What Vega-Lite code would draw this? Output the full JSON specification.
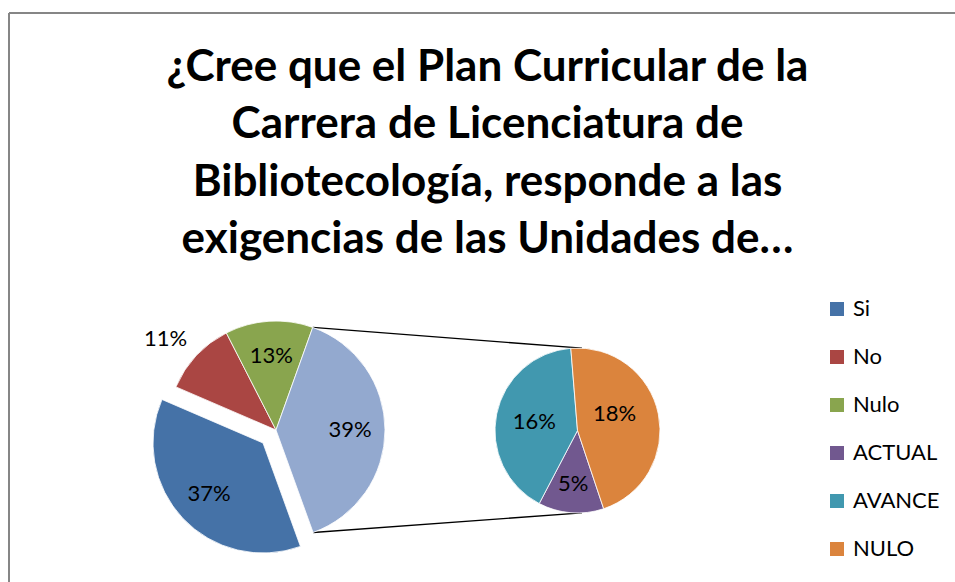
{
  "$schema": "https://vega.github.io/schema/vega-lite/v6.json",
  "width": 946,
  "height": 569,
  "autosize": {"type": "none"},
  "padding": {"left": 9, "top": 13, "right": 0, "bottom": 0},
  "background": "white",
  "config": {"view": {"stroke": null}},
  "title": {
    "text": ["¿Cree que el Plan Curricular de la", "Carrera de Licenciatura de", "Bibliotecología, responde a las", "exigencias de las Unidades de…"],
    "font": "Lato",
    "fontSize": 44,
    "fontWeight": "bold",
    "lineHeight": 57.5,
    "color": "#000000",
    "anchor": "middle",
    "frame": "group",
    "baseline": "top",
    "offset": -250,
    "dx": 5.5
  },
  "datasets": {
    "principal": [
      {"categoria": "Si", "valor": 0.37},
      {"categoria": "No", "valor": 0.11},
      {"categoria": "Nulo", "valor": 0.13},
      {"categoria": "Otro", "valor": 0.39}
    ],
    "detalle": [
      {"categoria": "ACTUAL", "valor": 0.05},
      {"categoria": "AVANCE", "valor": 0.16},
      {"categoria": "NULO", "valor": 0.18}
    ],
    "vacio": [{}]
  },
  "resolve": {"scale": {"theta": "independent"}},
  "layer": [
    {
      "data": {"name": "vacio"},
      "mark": {"type": "rule", "color": "#868686", "strokeWidth": 2},
      "encoding": {
        "x": {"datum": 0, "type": "quantitative", "scale": {"domain": [0, 946], "nice": false, "zero": false}, "axis": null}
      }
    },
    {
      "data": {"name": "vacio"},
      "mark": {"type": "rule", "color": "#868686", "strokeWidth": 2},
      "encoding": {
        "y": {"datum": 0, "type": "quantitative", "scale": {"domain": [0, 569], "nice": false, "zero": false, "reverse": true}, "axis": null}
      }
    },
    {
      "data": {"name": "vacio"},
      "mark": {"type": "rule", "color": "#000000", "strokeWidth": 1.3},
      "encoding": {
        "x": {"datum": 303.7, "type": "quantitative", "scale": {"domain": [0, 946], "nice": false, "zero": false}, "axis": null},
        "y": {"datum": 314.4, "type": "quantitative", "scale": {"domain": [0, 569], "nice": false, "zero": false, "reverse": true}, "axis": null},
        "x2": {"datum": 573},
        "y2": {"datum": 335.2}
      }
    },
    {
      "data": {"name": "vacio"},
      "mark": {"type": "rule", "color": "#000000", "strokeWidth": 1.3},
      "encoding": {
        "x": {"datum": 304.2, "type": "quantitative", "scale": {"domain": [0, 946], "nice": false, "zero": false}, "axis": null},
        "y": {"datum": 519.5, "type": "quantitative", "scale": {"domain": [0, 569], "nice": false, "zero": false, "reverse": true}, "axis": null},
        "x2": {"datum": 573},
        "y2": {"datum": 499.8}
      }
    },
    {
      "data": {"name": "principal"},
      "transform": [
        {"stack": "valor", "groupby": [], "as": ["v0", "v1"]},
        {"filter": "datum.categoria != 'Si'"}
      ],
      "mark": {"type": "arc", "radius": 109, "stroke": "#ffffff", "strokeWidth": 0.8},
      "encoding": {
        "x": {"datum": 267, "type": "quantitative", "scale": {"domain": [0, 946], "nice": false, "zero": false}, "axis": null},
        "y": {"datum": 417, "type": "quantitative", "scale": {"domain": [0, 569], "nice": false, "zero": false, "reverse": true}, "axis": null},
        "theta": {"field": "v0", "type": "quantitative", "scale": {"domain": [0, 1], "range": [2.7943, 9.0775]}},
        "theta2": {"field": "v1"},
        "color": {
          "field": "categoria",
          "type": "nominal",
          "scale": {
            "domain": ["Si", "No", "Nulo", "ACTUAL", "AVANCE", "NULO", "Otro"],
            "range": ["#4572A7", "#AA4643", "#89A54E", "#71588F", "#4198AF", "#DB843D", "#93A9CF"]
          },
          "legend": {
            "values": ["Si", "No", "Nulo", "ACTUAL", "AVANCE", "NULO"],
            "title": null,
            "orient": "none",
            "legendX": 817,
            "legendY": 285,
            "padding": 0,
            "symbolType": "square",
            "symbolSize": 196,
            "symbolStrokeWidth": 0,
            "labelFont": "Lato",
            "labelFontSize": 22,
            "labelColor": "#000000",
            "labelOffset": 5,
            "rowPadding": 26
          }
        }
      }
    },
    {
      "data": {"name": "principal"},
      "transform": [
        {"stack": "valor", "groupby": [], "as": ["v0", "v1"]},
        {"filter": "datum.categoria == 'Si'"}
      ],
      "mark": {"type": "arc", "radius": 110, "stroke": "#ffffff", "strokeWidth": 0.8, "xOffset": -13, "yOffset": 13},
      "encoding": {
        "x": {"datum": 267, "type": "quantitative", "scale": {"domain": [0, 946], "nice": false, "zero": false}, "axis": null},
        "y": {"datum": 417, "type": "quantitative", "scale": {"domain": [0, 569], "nice": false, "zero": false, "reverse": true}, "axis": null},
        "theta": {"field": "v0", "type": "quantitative", "scale": {"domain": [0, 1], "range": [2.7943, 9.0775]}},
        "theta2": {"field": "v1"},
        "color": {"field": "categoria", "type": "nominal"}
      }
    },
    {
      "data": {"name": "detalle"},
      "transform": [
        {"stack": "valor", "groupby": [], "as": ["v0", "v1"]}
      ],
      "mark": {"type": "arc", "radius": 82.5, "stroke": "#ffffff", "strokeWidth": 0.8},
      "encoding": {
        "x": {"datum": 568.5, "type": "quantitative", "scale": {"domain": [0, 946], "nice": false, "zero": false}, "axis": null},
        "y": {"datum": 417.5, "type": "quantitative", "scale": {"domain": [0, 569], "nice": false, "zero": false, "reverse": true}, "axis": null},
        "theta": {"field": "v0", "type": "quantitative", "scale": {"domain": [0, 0.39], "range": [2.8187, 9.1019]}},
        "theta2": {"field": "v1"},
        "color": {"field": "categoria", "type": "nominal"}
      }
    },
    {
      "data": {"name": "principal"},
      "transform": [
        {"stack": "valor", "groupby": [], "as": ["v0", "v1"]},
        {"calculate": "(datum.v0 + datum.v1) / 2", "as": "vm"},
        {"filter": "datum.categoria == 'Nulo' || datum.categoria == 'Otro'"}
      ],
      "mark": {"type": "text", "radius": 74, "font": "Lato", "fontSize": 22, "color": "#000000"},
      "encoding": {
        "x": {"datum": 267, "type": "quantitative", "scale": {"domain": [0, 946], "nice": false, "zero": false}, "axis": null},
        "y": {"datum": 417, "type": "quantitative", "scale": {"domain": [0, 569], "nice": false, "zero": false, "reverse": true}, "axis": null},
        "theta": {"field": "vm", "type": "quantitative", "scale": {"domain": [0, 1], "range": [2.7943, 9.0775]}},
        "text": {"field": "valor", "type": "quantitative", "format": ".0%"}
      }
    },
    {
      "data": {"name": "principal"},
      "transform": [
        {"stack": "valor", "groupby": [], "as": ["v0", "v1"]},
        {"calculate": "(datum.v0 + datum.v1) / 2", "as": "vm"},
        {"filter": "datum.categoria == 'Si'"}
      ],
      "mark": {"type": "text", "radius": 74, "font": "Lato", "fontSize": 22, "color": "#000000", "xOffset": -13, "yOffset": 13},
      "encoding": {
        "x": {"datum": 267, "type": "quantitative", "scale": {"domain": [0, 946], "nice": false, "zero": false}, "axis": null},
        "y": {"datum": 417, "type": "quantitative", "scale": {"domain": [0, 569], "nice": false, "zero": false, "reverse": true}, "axis": null},
        "theta": {"field": "vm", "type": "quantitative", "scale": {"domain": [0, 1], "range": [2.7943, 9.0775]}},
        "text": {"field": "valor", "type": "quantitative", "format": ".0%"}
      }
    },
    {
      "data": {"name": "principal"},
      "transform": [
        {"stack": "valor", "groupby": [], "as": ["v0", "v1"]},
        {"calculate": "(datum.v0 + datum.v1) / 2", "as": "vm"},
        {"filter": "datum.categoria == 'No'"}
      ],
      "mark": {"type": "text", "radius": 143, "font": "Lato", "fontSize": 22, "color": "#000000", "dx": -6, "dy": 7},
      "encoding": {
        "x": {"datum": 267, "type": "quantitative", "scale": {"domain": [0, 946], "nice": false, "zero": false}, "axis": null},
        "y": {"datum": 417, "type": "quantitative", "scale": {"domain": [0, 569], "nice": false, "zero": false, "reverse": true}, "axis": null},
        "theta": {"field": "vm", "type": "quantitative", "scale": {"domain": [0, 1], "range": [2.7943, 9.0775]}},
        "text": {"field": "valor", "type": "quantitative", "format": ".0%"}
      }
    },
    {
      "data": {"name": "detalle"},
      "transform": [
        {"stack": "valor", "groupby": [], "as": ["v0", "v1"]},
        {"calculate": "(datum.v0 + datum.v1) / 2", "as": "vm"},
        {"filter": "datum.categoria == 'AVANCE'"}
      ],
      "mark": {"type": "text", "radius": 44, "font": "Lato", "fontSize": 22, "color": "#000000"},
      "encoding": {
        "x": {"datum": 568.5, "type": "quantitative", "scale": {"domain": [0, 946], "nice": false, "zero": false}, "axis": null},
        "y": {"datum": 417.5, "type": "quantitative", "scale": {"domain": [0, 569], "nice": false, "zero": false, "reverse": true}, "axis": null},
        "theta": {"field": "vm", "type": "quantitative", "scale": {"domain": [0, 0.39], "range": [2.8187, 9.1019]}},
        "text": {"field": "valor", "type": "quantitative", "format": ".0%"}
      }
    },
    {
      "data": {"name": "detalle"},
      "transform": [
        {"stack": "valor", "groupby": [], "as": ["v0", "v1"]},
        {"calculate": "(datum.v0 + datum.v1) / 2", "as": "vm"},
        {"filter": "datum.categoria == 'NULO'"}
      ],
      "mark": {"type": "text", "radius": 44, "font": "Lato", "fontSize": 22, "color": "#000000", "dx": -6, "dy": -8},
      "encoding": {
        "x": {"datum": 568.5, "type": "quantitative", "scale": {"domain": [0, 946], "nice": false, "zero": false}, "axis": null},
        "y": {"datum": 417.5, "type": "quantitative", "scale": {"domain": [0, 569], "nice": false, "zero": false, "reverse": true}, "axis": null},
        "theta": {"field": "vm", "type": "quantitative", "scale": {"domain": [0, 0.39], "range": [2.8187, 9.1019]}},
        "text": {"field": "valor", "type": "quantitative", "format": ".0%"}
      }
    },
    {
      "data": {"name": "detalle"},
      "transform": [
        {"stack": "valor", "groupby": [], "as": ["v0", "v1"]},
        {"calculate": "(datum.v0 + datum.v1) / 2", "as": "vm"},
        {"filter": "datum.categoria == 'ACTUAL'"}
      ],
      "mark": {"type": "text", "radius": 54, "font": "Lato", "fontSize": 22, "color": "#000000"},
      "encoding": {
        "x": {"datum": 568.5, "type": "quantitative", "scale": {"domain": [0, 946], "nice": false, "zero": false}, "axis": null},
        "y": {"datum": 417.5, "type": "quantitative", "scale": {"domain": [0, 569], "nice": false, "zero": false, "reverse": true}, "axis": null},
        "theta": {"field": "vm", "type": "quantitative", "scale": {"domain": [0, 0.39], "range": [2.8187, 9.1019]}},
        "text": {"field": "valor", "type": "quantitative", "format": ".0%"}
      }
    }
  ]
}
